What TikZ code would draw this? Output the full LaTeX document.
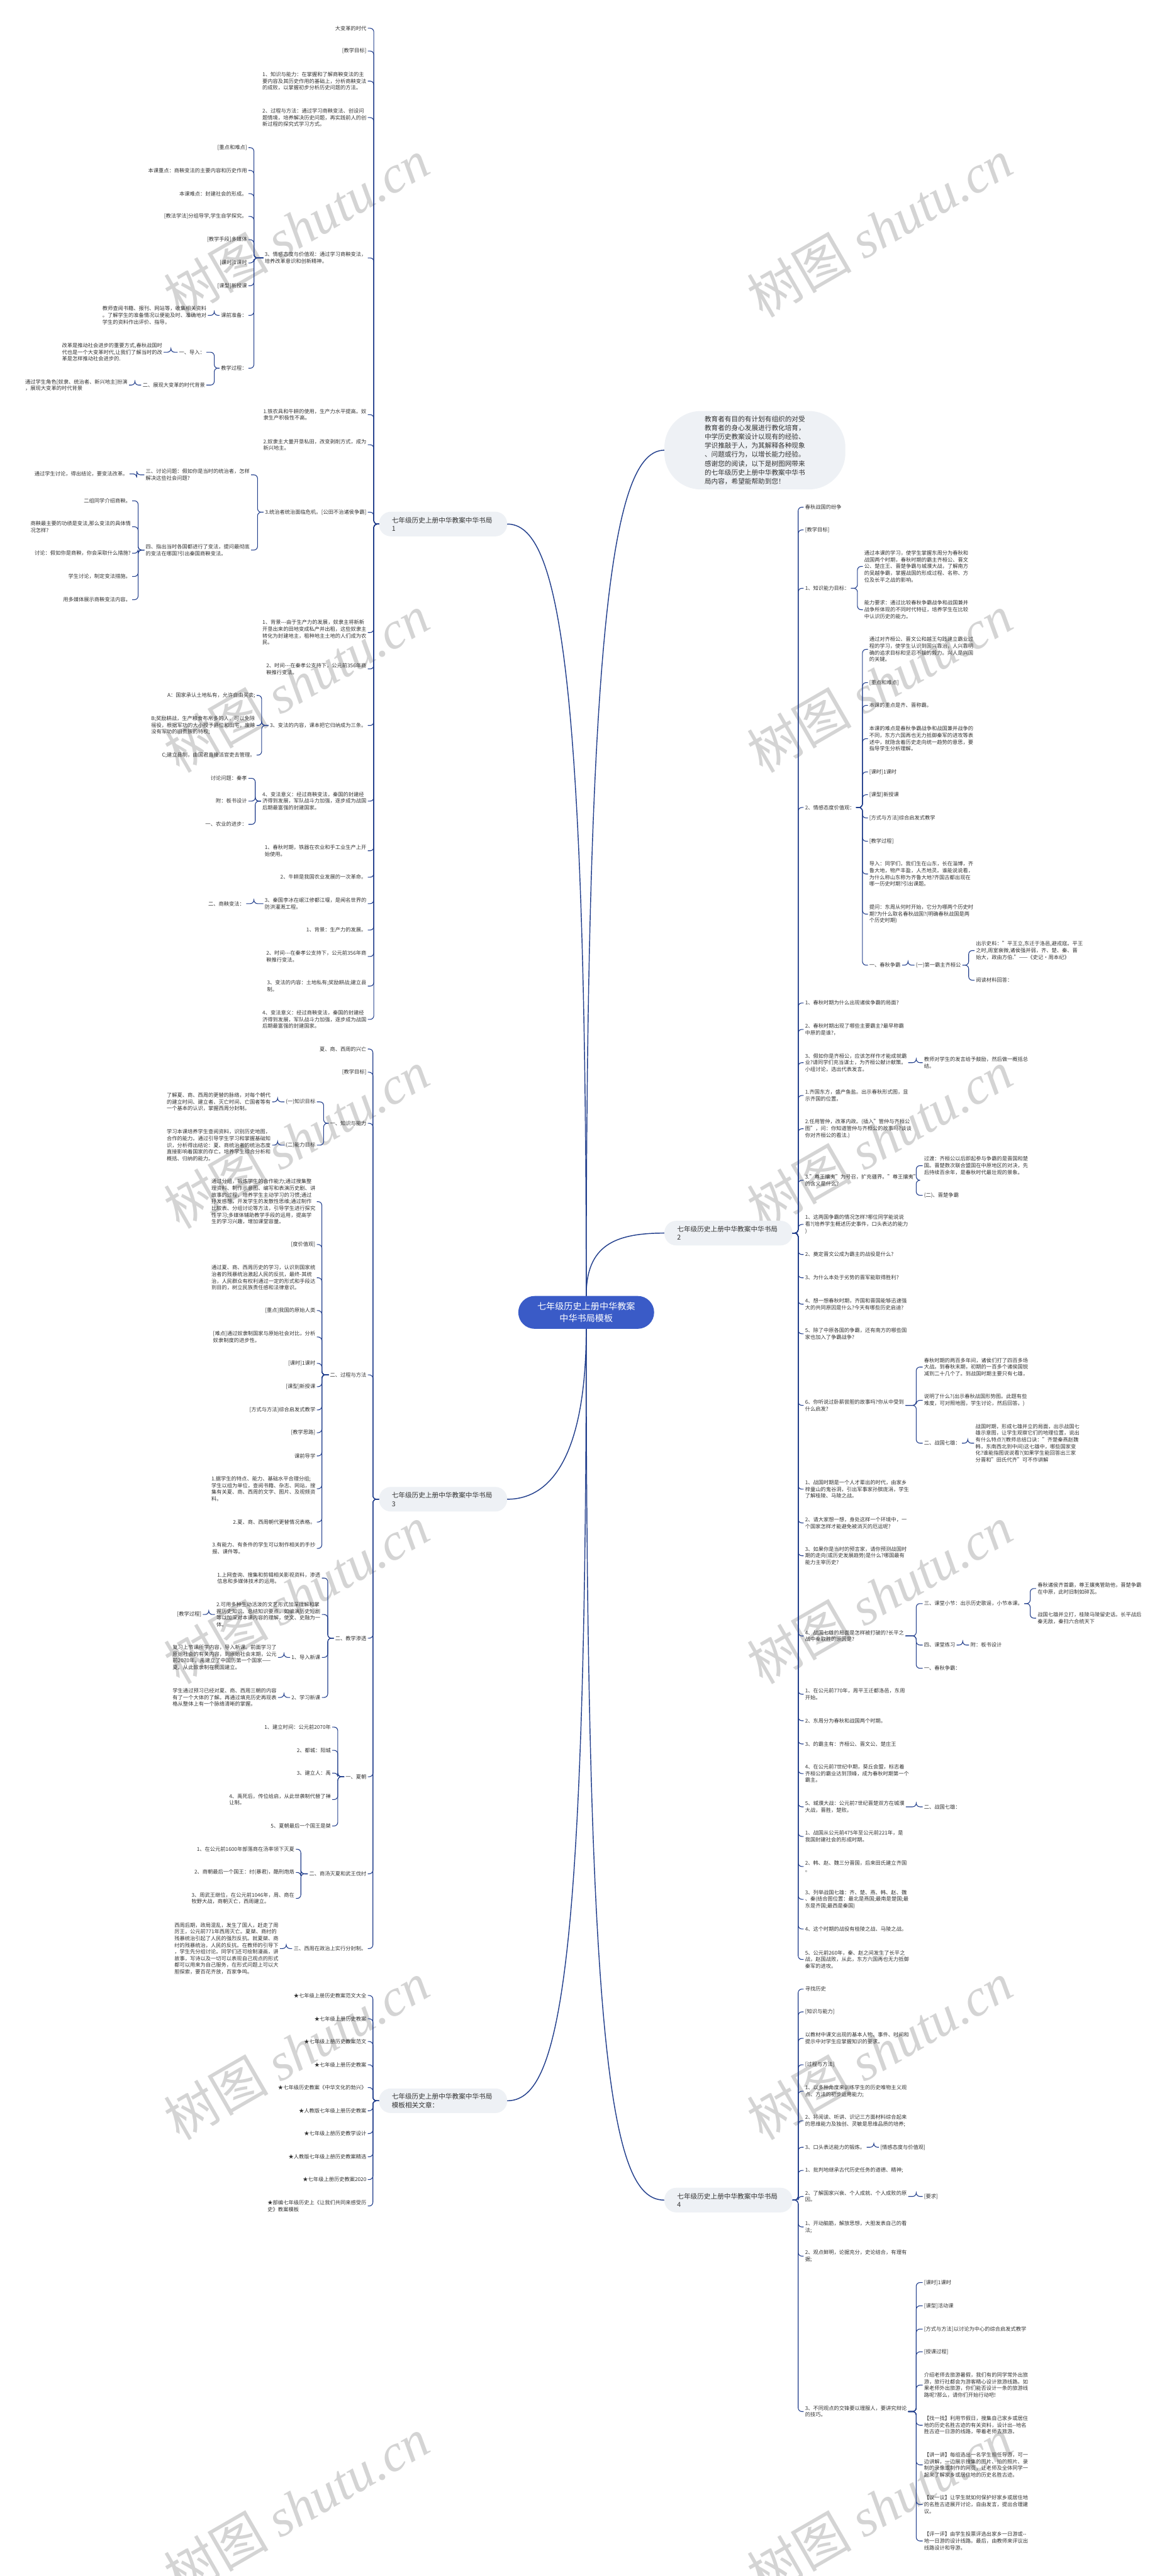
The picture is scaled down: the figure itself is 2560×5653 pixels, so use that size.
\documentclass[tikz,border=0pt]{standalone}
\usepackage{fontspec}
\setmainfont{Noto Sans CJK SC}
\newfontfamily\wmser{Liberation Serif}
\definecolor{navy}{RGB}{33,62,140}
\definecolor{txtc}{RGB}{51,51,51}
\definecolor{pillc}{RGB}{238,241,245}
\definecolor{rootc}{RGB}{58,91,199}
\definecolor{wmc}{RGB}{212,212,212}
\newcommand{\LC}[3]{\draw[conn] (#1.west) -- (#3,0 |- #1.west) |- (#2.east);}
\newcommand{\RC}[3]{\draw[conn] (#1.east) -- (#3,0 |- #1.east) |- (#2.west);}
\tikzset{
 conn/.style={draw=navy, line width=1.5pt, rounded corners=8pt},
 rootline/.style={draw=navy, line width=2pt},
 tx/.style={font=\fontsize{11.4}{14.7}\selectfont, text=txtc, inner xsep=3pt, inner ysep=1pt, align=left},
 lft/.style={tx, anchor=east},
 rgt/.style={tx, anchor=west},
 brnode/.style={fill=pillc, rounded corners=26pt, minimum width=281pt, minimum height=54pt, text width=225pt, align=left, font=\fontsize{14.7}{18.5}\selectfont, text=txtc, inner sep=0pt},
 intro/.style={fill=pillc, rounded corners=80pt, minimum width=397pt, minimum height=172pt, align=left, font=\fontsize{14.7}{19.6}\selectfont, text=txtc, inner sep=0pt},
 rootnode/.style={fill=rootc, text=white, rounded corners=36pt, minimum width=298pt, minimum height=72pt, align=center, font=\fontsize{19.5}{26}\selectfont, inner sep=0pt},
 wmk/.style={rotate=30, text=wmc, font=\fontsize{115}{115}\selectfont, inner sep=0pt}
}
\begin{document}
\begin{tikzpicture}[x=1pt,y=-1pt]
\fill[white] (0,0) rectangle (2560,5653);
\useasboundingbox (0,0) rectangle (2560,5653);
% watermarks
\foreach \yy in {500,1500,2500,3500,4500,5500}{
 \node[wmk] (wl\yy) at (650,\yy) {树图 {\wmser\itshape shutu.cn}};
 \node[wmk] (wr\yy) at (1930,\yy) {树图 {\wmser\itshape shutu.cn}};
}
% root and main branches
\node[rootnode] (C) at (1286,2880) {七年级历史上册中华教案\\中华书局模板};
\node[intro] (I) at (1656,988) {教育者有目的有计划有组织的对受\\教育者的身心发展进行教化培育，\\中学历史教案设计以现有的经验、\\学识推敲于人，为其解释各种现象\\、问题或行为，以增长能力经验。\\感谢您的阅读，以下是树图网带来\\的七年级历史上册中华教案中华书\\局内容，希望能帮助到您！};
\node[brnode] (B1) at (972,1150) {七年级历史上册中华教案中华书局\\1};
\node[brnode] (B2) at (1598,2706) {七年级历史上册中华教案中华书局\\2};
\node[brnode] (B3) at (972,3290) {七年级历史上册中华教案中华书局\\3};
\node[brnode] (B4) at (1598,4828) {七年级历史上册中华教案中华书局\\4};
\node[brnode] (B5) at (972,4610) {七年级历史上册中华教案中华书局\\模板相关文章：};
\draw[rootline] (C.north) .. controls +(0,-1500) and +(-110,0) .. (I.west);
\draw[rootline] (C.north) .. controls +(0,-1400) and +(110,0) .. (B1.east);
\draw[rootline] (C.north) .. controls +(0,-110) and +(-110,0) .. (B2.west);
\draw[rootline] (C.south) .. controls +(0,250) and +(110,0) .. (B3.east);
\draw[rootline] (C.south) .. controls +(0,1450) and +(110,0) .. (B5.east);
\draw[rootline] (C.south) .. controls +(0,1650) and +(-110,0) .. (B4.west);

% ===== Branch 1 =====
\node[lft] (a1) at (807,62) {大变革的时代};
\node[lft] (a2) at (807,112) {[教学目标]};
\node[lft] (a3) at (807,178) {1、知识与能力：在掌握和了解商鞅变法的主\\要内容及其历史作用的基础上，分析商鞅变法\\的成败，以掌握初步分析历史问题的方法。};
\node[lft] (a4) at (807,258) {2、过程与方法：通过学习商鞅变法、创设问\\题情境，培养解决历史问题，再实践前人的创\\新过程的探究式学习方式。};
\node[lft] (a5) at (807,566) {3、情感态度与价值观：通过学习商鞅变法，\\培养改革意识和创新精神。};
\node[lft] (a6) at (807,910) {1.铁农具和牛耕的使用，生产力水平提高。奴\\隶生产积极性不高。};
\node[lft] (a7) at (807,976) {2.奴隶主大量开垦私田，改变剥削方式，成为\\新兴地主。};
\node[lft] (a8) at (807,1124) {3.统治者统治面临危机。[公田不治诸侯争霸]};
\node[lft] (a9) at (807,1388) {1、背景-{}-{}-由于生产力的发展，奴隶主将新新\\开垦出来的田地变成私产并出租，这些奴隶主\\转化为封建地主，租种地主土地的人们成为农\\民。};
\node[lft] (a10) at (807,1468) {2、时间-{}-{}-在秦孝公支持下，公元前356年商\\鞅推行变法。};
\node[lft] (a11) at (807,1592) {3、变法的内容，课本把它归纳成为三条。};
\node[lft] (a12) at (807,1758) {4、变法意义：经过商鞅变法，秦国的封建经\\济得到发展，军队战斗力加强，逐步成为战国\\后期最富强的封建国家。};
\node[lft] (a13) at (807,1867) {1、春秋时期，铁器在农业和手工业生产上开\\始使用。};
\node[lft] (a14) at (807,1925) {2、牛耕是我国农业发展的一次革命。};
\node[lft] (a15) at (807,1983) {3、秦国李冰在岷江修都江堰，是闻名世界的\\防洪灌溉工程。};
\node[lft] (a16) at (807,2041) {1、背景：生产力的发展。};
\node[lft] (a17) at (807,2099) {2、时间-{}-{}-在秦孝公支持下，公元前356年商\\鞅推行变法。};
\node[lft] (a18) at (807,2164) {3、变法的内容：土地私有;奖励耕战;建立县\\制。};
\node[lft] (a19) at (807,2237) {4、变法意义：经过商鞅变法，秦国的封建经\\济得到发展，军队战斗力加强，逐步成为战国\\后期最富强的封建国家。};
\foreach \n in {a1,a2,a3,a4,a5,a6,a7,a8,a9,a10,a11,a12,a13,a14,a15,a16,a17,a18,a19}{\LC{B1}{\n}{820}}

\node[lft] (a5c1) at (545,324) {[重点和难点]};
\node[lft] (a5c2) at (545,374) {本课重点：商鞅变法的主要内容和历史作用};
\node[lft] (a5c3) at (545,425) {本课难点：封建社会的形成。};
\node[lft] (a5c4) at (545,475) {[教法学法]分组导学,学生自学探究。};
\node[lft] (a5c5) at (545,526) {[教学手段]多媒体};
\node[lft] (a5c6) at (545,577) {[课时]1课时};
\node[lft] (a5c7) at (545,627) {[课型]新授课};
\node[lft] (a5c8) at (545,692) {课前准备：};
\node[lft] (a5c9) at (545,808) {教学过程：};
\foreach \n in {a5c1,a5c2,a5c3,a5c4,a5c5,a5c6,a5c7,a5c8,a5c9}{\LC{a5}{\n}{557}}
\node[lft] (a5c8a) at (456,692) {教师查阅书籍、报刊、网站等，收集相关资料\\。了解学生的准备情况以便能及时、准确地对\\学生的资料作出评价、指导。};
\LC{a5c8}{a5c8a}{470}
\node[lft] (a5c9a) at (453,773) {一、导入：};
\node[lft] (a5c9b) at (453,845) {二、展现大变革的时代背景};
\LC{a5c9}{a5c9a}{470}
\LC{a5c9}{a5c9b}{470}
\node[lft] (a5c9a1) at (359,773) {改革是推动社会进步的重要方式,春秋战国时\\代也是一个大变革时代,让我们了解当时的改\\革是怎样推动社会进步的.};
\LC{a5c9a}{a5c9a1}{375}
\node[lft] (a5c9b1) at (283,845) {通过学生角色[奴隶、统治者、新兴地主]扮演\\，展现大变革的时代背景};
\LC{a5c9b}{a5c9b1}{296}

\node[lft] (a8c1) at (551,1042) {三、讨论问题：假如你是当时的统治者，怎样\\解决这些社会问题?};
\node[lft] (a8c2) at (551,1207) {四、指出当时各国都进行了变法，提问最彻底\\的变法在哪国?引出秦国商鞅变法。};
\LC{a8}{a8c1}{565}
\LC{a8}{a8c2}{565}
\node[lft] (a8c1a) at (284,1040) {通过学生讨论，得出结论，要变法改革。};
\LC{a8c1}{a8c1a}{300}
\node[lft] (a8c2a) at (290,1099) {二组同学介绍商鞅。};
\node[lft] (a8c2b) at (290,1156) {商鞅最主要的功绩是变法,那么变法的具体情\\况怎样?};
\node[lft] (a8c2c) at (290,1214) {讨论：假如你是商鞅，你会采取什么措施?};
\node[lft] (a8c2d) at (290,1265) {学生讨论，制定变法措施。};
\node[lft] (a8c2e) at (290,1316) {用多媒体展示商鞅变法内容。};
\foreach \n in {a8c2a,a8c2b,a8c2c,a8c2d,a8c2e}{\LC{a8c2}{\n}{303}}

\node[lft] (a11c1) at (563,1526) {A：国家承认土地私有，允许自由买卖;};
\node[lft] (a11c2) at (563,1592) {B;奖励耕战，生产粮食布帛多的人，可以免除\\徭役，根据军功的大小授予爵位和田宅，废除\\没有军功的旧贵族的特权;};
\node[lft] (a11c3) at (563,1657) {C;建立县制，由国君直接派官吏去管理。};
\foreach \n in {a11c1,a11c2,a11c3}{\LC{a11}{\n}{574}}
\node[lft] (a12c1) at (545,1708) {讨论问题：秦孝};
\node[lft] (a12c2) at (545,1758) {附：板书设计};
\node[lft] (a12c3) at (545,1809) {一、农业的进步：};
\foreach \n in {a12c1,a12c2,a12c3}{\LC{a12}{\n}{560}}
\node[lft] (a15a) at (540,1983) {二、商鞅变法：};
\LC{a15}{a15a}{557}

% ===== Branch 3 =====
\node[lft] (b1) at (807,2302) {夏、商、西周的兴亡};
\node[lft] (b2) at (807,2353) {[教学目标]};
\node[lft] (b3) at (807,2465) {一、知识与能力};
\node[lft] (b4) at (807,3017) {二、过程与方法};
\node[lft] (b5) at (807,3595) {二、教学渗透};
\node[lft] (b6) at (807,3899) {一、夏朝};
\node[lft] (b7) at (807,4112) {二、商汤灭夏和武王伐纣};
\node[lft] (b8) at (807,4276) {三、西周在政治上实行分封制。};
\foreach \n in {b1,b2,b3,b4,b5,b6,b7,b8}{\LC{B3}{\n}{818}}

\node[lft] (b3c1) at (695,2418) {(一)知识目标};
\node[lft] (b3c2) at (695,2513) {(二)能力目标};
\LC{b3}{b3c1}{710}
\LC{b3}{b3c2}{710}
\node[lft] (b3c1a) at (597,2418) {了解夏、商、西周的更替的脉络，对每个朝代\\的建立时间、建立者、灭亡时间、亡国者等有\\一个基本的认识，掌握西周分封制。};
\LC{b3c1}{b3c1a}{609}
\node[lft] (b3c2a) at (597,2513) {学习本课培养学生查阅资料，识别历史地图，\\合作的能力。通过引导学生学习和掌握基础知\\识，分析得出结论：夏、商统治者的统治态度\\直接影响着国家的存亡。培养学生综合分析和\\概括、归纳的能力。};
\LC{b3c2}{b3c2a}{609}

\node[lft] (b4c1) at (695,2637) {通过分组，锻炼学生的合作能力;通过搜集整\\理资料、制作示意图、编写和表演历史剧、讲\\故事的过程，培养学生主动学习的习惯;通过\\抒发感想，开发学生的发散性思维;通过制作\\比较表、分组讨论等方法，引导学生进行探究\\性学习;多媒体辅助教学手段的运用，提高学\\生的学习兴趣，增加课堂容量。};
\node[lft] (b4c2) at (695,2731) {[度价值观]};
\node[lft] (b4c3) at (695,2804) {通过夏、商、西周历史的学习，认识到国家统\\治者的残暴统治激起人民的反抗，最终-其统\\治，人民群众有权利通过一定的形式和手段达\\到目的，树立民族责任感和法律意识。};
\node[lft] (b4c4) at (695,2876) {[重点]我国的原始人类};
\node[lft] (b4c5) at (695,2934) {[难点]通过奴隶制国家与原始社会对比，分析\\奴隶制度的进步性。};
\node[lft] (b4c6) at (695,2992) {[课时]1课时};
\node[lft] (b4c7) at (695,3043) {[课型]新授课};
\node[lft] (b4c8) at (695,3094) {[方式与方法]综合启发式教学};
\node[lft] (b4c9) at (695,3144) {[教学思路]};
\node[lft] (b4c10) at (695,3195) {课前导学};
\node[lft] (b4c11) at (695,3267) {1.据学生的特点、能力、基础水平合理分组;\\学生以组为单位，查阅书籍、杂志、网站，搜\\集有关夏、商、西周的文字、图片、及视频资\\料。};
\node[lft] (b4c12) at (695,3340) {2.夏、商、西周朝代更替情况表格。};
\node[lft] (b4c13) at (695,3398) {3.有能力、有条件的学生可以制作相关的手抄\\报、课件等。};
\foreach \n in {b4c1,b4c2,b4c3,b4c4,b4c5,b4c6,b4c7,b4c8,b4c9,b4c10,b4c11,b4c12,b4c13}{\LC{b4}{\n}{706}}

\node[lft] (b5c1) at (706,3463) {1.上网查询、搜集和剪辑相关影视资料，渗透\\信息和多媒体技术的运用。};
\node[lft] (b5c2) at (706,3543) {2.可用多种生动活泼的文艺形式加深理解和掌\\握历史知识、总结知识要点，如编演历史短剧\\等以加深对本课内容的理解，使文、史融为一\\体。};
\node[lft] (b5c3) at (706,3637) {1、导入新课};
\node[lft] (b5c4) at (706,3725) {2、学习新课};
\foreach \n in {b5c1,b5c2,b5c3,b5c4}{\LC{b5}{\n}{719}}
\node[lft] (b5c2a) at (445,3543) {[教学过程]};
\LC{b5c2}{b5c2a}{458}
\node[lft] (b5c3a) at (610,3637) {复习上节课所学内容，导入新课。前面学习了\\原始社会的有关内容，到原始社会末期，公元\\前2070年，禹建立了中国历第一个国家——\\夏。从此奴隶制在我国建立。};
\LC{b5c3}{b5c3a}{623}
\node[lft] (b5c4a) at (610,3725) {学生通过预习已经对夏、商、西周三朝的内容\\有了一个大体的了解。再通过填充历史再现表\\格从整体上有一个脉络清晰的掌握。};
\LC{b5c4}{b5c4a}{623}

\node[lft] (b6c1) at (729,3790) {1、建立时间：公元前2070年};
\node[lft] (b6c2) at (729,3841) {2、都城：阳城};
\node[lft] (b6c3) at (729,3891) {3、建立人：禹};
\node[lft] (b6c4) at (729,3949) {4、禹死后，传位给启，从此世袭制代替了禅\\让制。};
\node[lft] (b6c5) at (729,4007) {5、夏朝最后一个国王是桀};
\foreach \n in {b6c1,b6c2,b6c3,b6c4,b6c5}{\LC{b6}{\n}{741}}
\node[lft] (b7c1) at (649,4058) {1、在公元前1600年部落商在汤率领下灭夏};
\node[lft] (b7c2) at (649,4109) {2、商朝最后一个国王：纣(暴君)，酷刑炮烙};
\node[lft] (b7c3) at (649,4166) {3、周武王继位，在公元前1046年，周、商在\\牧野大战，商朝灭亡，西周建立。};
\foreach \n in {b7c1,b7c2,b7c3}{\LC{b7}{\n}{660}}
\node[lft] (b8a) at (614,4276) {西周后期，政局混乱，发生了国人，赶走了周\\厉王，公元前771年西周灭亡。夏桀、商纣的\\残暴统治引起了人民的强烈反抗。就夏桀、商\\纣的残暴统治，人民的反抗。在教师的引导下\\，学生先分组讨论。同学们还可绘制漫画，讲\\故事，写诗以及一切可以表现自己观点的形式\\都可以用来为自己服务，在形式问题上可以大\\胆探索，要百花齐放，百家争鸣。};
\LC{b8}{b8a}{628}

% ===== Branch 5 (related) =====
\node[lft] (r1) at (807,4379) {★七年级上册历史教案范文大全};
\node[lft] (r2) at (807,4430) {★七年级上册历史教案};
\node[lft] (r3) at (807,4480) {★七年级上册历史教案范文};
\node[lft] (r4) at (807,4531) {★七年级上册历史教案};
\node[lft] (r5) at (807,4581) {★七年级历史教案《中华文化的勃兴》};
\node[lft] (r6) at (807,4632) {★人教版七年级上册历史教案};
\node[lft] (r7) at (807,4682) {★七年级上册历史教学设计};
\node[lft] (r8) at (807,4733) {★人教版七年级上册历史教案精选};
\node[lft] (r9) at (807,4783) {★七年级上册历史教案2020};
\node[lft] (r10) at (807,4841) {★部编七年级历史上《让我们共同来感受历\\史》教案模板};
\foreach \n in {r1,r2,r3,r4,r5,r6,r7,r8,r9,r10}{\LC{B5}{\n}{818}}

% ===== Branch 2 =====
\node[rgt] (c1) at (1763,1113) {春秋战国的纷争};
\node[rgt] (c2) at (1763,1163) {[教学目标]};
\node[rgt] (c3) at (1763,1291) {1、知识能力目标：};
\node[rgt] (c4) at (1763,1772) {2、情感态度价值观：};
\node[rgt] (c5) at (1763,2201) {1、春秋时期为什么出现诸侯争霸的局面?};
\node[rgt] (c6) at (1763,2259) {2、春秋时期出现了哪些主要霸主?最早称霸\\中原的是谁?，};
\node[rgt] (c7) at (1763,2332) {3、假如你是齐桓公，应该怎样作才能成就霸\\业?请同学们充当谋士，为齐桓公献计献策。\\小组讨论，选出代表发言。};
\node[rgt] (c8) at (1763,2404) {1.齐国东方，盛产鱼盐。出示春秋形式图，显\\示齐国的位置。};
\node[rgt] (c9) at (1763,2477) {2.任用管仲，改革内政。(插入"管仲与齐桓公\\图"，问：你知道管仲与齐桓公的故事吗?谈谈\\你对齐桓公的看法.)};
\node[rgt] (c10) at (1763,2590) {3."尊王攘夷"为号召，扩充疆界。"尊王攘夷"\\的含义是什么?};
\node[rgt] (c11) at (1763,2687) {1、这两国争霸的情况怎样?哪位同学能说说\\看?(培养学生概述历史事件，口头表达的能力\\)};
\node[rgt] (c12) at (1763,2753) {2、奠定晋文公成为霸主的战役是什么?};
\node[rgt] (c13) at (1763,2804) {3、为什么本处于劣势的晋军能取得胜利?};
\node[rgt] (c14) at (1763,2862) {4、想一想春秋时期，齐国和晋国能够迅速强\\大的共同原因是什么?今天有哪些历史启迪?};
\node[rgt] (c15) at (1763,2927) {5、除了中原各国的争霸，还有南方的哪些国\\家也加入了争霸战争?};
\node[rgt] (c16) at (1763,3084) {6、你听说过卧薪尝胆的故事吗?你从中受到\\什么启发?};
\node[rgt] (c17) at (1763,3268) {1、战国时期是一个人才辈出的时代，由家乡\\梓童山的鬼谷洞，引出军事家孙膑庞涓，学生\\了解桂陵、马陵之战。};
\node[rgt] (c18) at (1763,3342) {2、请大家想一想，身处这样一个环境中，一\\个国家怎样才能避免被消灭的厄运呢?};
\node[rgt] (c19) at (1763,3414) {3、如果你是当时的预言家，请你预测战国时\\期的走向(或历史发展趋势)是什么?哪国最有\\能力主宰历史?};
\node[rgt] (c20) at (1763,3590) {4、战国七雄的局面是怎样被打破的?长平之\\战中秦取胜的原因是?};
\node[rgt] (c21) at (1763,3718) {1、在公元前770年，周平王迁都洛邑，东周\\开始。};
\node[rgt] (c22) at (1763,3776) {2、东周分为春秋和战国两个时期。};
\node[rgt] (c23) at (1763,3827) {3、的霸主有：齐桓公、晋文公、楚庄王};
\node[rgt] (c24) at (1763,3892) {4、在公元前7世纪中期，葵丘会盟，标志着\\齐桓公的霸业达到顶峰，成为春秋时期第一个\\霸主。};
\node[rgt] (c25) at (1763,3965) {5、城濮大战：公元前7世纪晋楚双方在城濮\\大战，晋胜，楚败。};
\node[rgt] (c26) at (1763,4030) {1、战国从公元前475年至公元前221年，是\\我国封建社会的形成时期。};
\node[rgt] (c27) at (1763,4096) {2、韩、赵、魏三分晋国，后来田氏建立齐国\\。};
\node[rgt] (c28) at (1763,4168) {3、列举战国七雄：齐、楚、燕、韩、赵、魏\\、秦(结合图位置：最北是燕国;最南是楚国;最\\东是齐国;最西是秦国)};
\node[rgt] (c29) at (1763,4233) {4、这个时期的战役有桂陵之战、马陵之战。};
\node[rgt] (c30) at (1763,4300) {5、公元前260年，秦、赵之间发生了长平之\\战，赵国战败，从此，东方六国再也无力抵御\\秦军的进攻。};
\foreach \n in {c1,c2,c3,c4,c5,c6,c7,c8,c9,c10,c11,c12,c13,c14,c15,c16,c17,c18,c19,c20,c21,c22,c23,c24,c25,c26,c27,c28,c29,c30}{\RC{B2}{\n}{1751}}

\node[rgt] (c3a) at (1893,1243) {通过本课的学习，使学生掌握东周分为春秋和\\战国两个时期，春秋时期的霸主齐桓公、晋文\\公、楚庄王、晋楚争霸与城濮大战，了解南方\\的吴越争霸，掌握战国的形成过程、名称、方\\位及长平之战的影响。};
\node[rgt] (c3b) at (1893,1338) {能力要求：通过比较春秋争霸战争和战国兼并\\战争所体现的不同时代特征，培养学生在比较\\中认识历史的能力。};
\RC{c3}{c3a}{1881}
\RC{c3}{c3b}{1881}

\node[rgt] (c4a) at (1904,1425) {通过对齐桓公、晋文公和越王勾践建立霸业过\\程的学习，使学生认识到国兴靠治，人兴靠明\\确的追求目标和坚忍不拔的毅力。兴人是兴国\\的关键。};
\node[rgt] (c4b) at (1904,1498) {[重点和难点]};
\node[rgt] (c4c) at (1904,1548) {本课的重点是齐、晋称霸。};
\node[rgt] (c4d) at (1904,1621) {本课的难点是春秋争霸战争和战国兼并战争的\\不同，东方六国再也无力抵御秦军的进攻等表\\述中，就隐含着历史走向统一趋势的意思，要\\指导学生分析理解。};
\node[rgt] (c4e) at (1904,1694) {[课时]1课时};
\node[rgt] (c4f) at (1904,1744) {[课型]新授课};
\node[rgt] (c4g) at (1904,1795) {[方式与方法]综合启发式教学};
\node[rgt] (c4h) at (1904,1846) {[教学过程]};
\node[rgt] (c4i) at (1904,1918) {导入：同学们，我们生在山东，长在淄博，齐\\鲁大地，物产丰盈，人杰地灵。谁能说说看，\\为什么称山东称为齐鲁大地?齐国古都出现在\\哪一历史时期?引出课题。};
\node[rgt] (c4j) at (1904,2006) {提问：东周从何时开始，它分为哪两个历史时\\期?为什么取名春秋战国?(明确春秋战国是两\\个历史时期)};
\node[rgt] (c4k) at (1904,2118) {一、春秋争霸};
\foreach \n in {c4a,c4b,c4c,c4d,c4e,c4f,c4g,c4h,c4i,c4j,c4k}{\RC{c4}{\n}{1892}}
\node[rgt] (c4k1) at (2006,2118) {(一)第一霸主齐桓公};
\RC{c4k}{c4k1}{1992}
\node[rgt] (c4k1a) at (2138,2086) {出示史料："平王立,东迁于洛邑,避戎寇。平王\\之时,周室衰微,诸侯强并弱，齐、楚、秦、晋\\始大，政由方伯."——《史记•周本纪》};
\node[rgt] (c4k1b) at (2138,2151) {阅读材料回答：};
\RC{c4k1}{c4k1a}{2125}
\RC{c4k1}{c4k1b}{2125}

\node[rgt] (c7a) at (2024,2332) {教师对学生的发言给予鼓励，然后做一概括总\\结。};
\RC{c7}{c7a}{2010}
\node[rgt] (c10a) at (2024,2558) {过渡：齐桓公以后即起参与争霸的是晋国和楚\\国。晋楚数次联合盟国在中原地区的对决，先\\后持续百余年，是春秋时代最壮观的景象。};
\node[rgt] (c10b) at (2024,2623) {(二)、晋楚争霸};
\RC{c10}{c10a}{2010}
\RC{c10}{c10b}{2010}
\node[rgt] (c16a) at (2024,3000) {春秋时期的两百多年间，诸侯们打了四百多场\\大战。到春秋末期，初期的一百多个诸侯国锐\\减到二十几个了。到战国时期主要只有七雄，};
\node[rgt] (c16b) at (2024,3073) {说明了什么?(出示春秋战国形势图。此题有些\\难度，可对照地图，学生讨论，然后回答。)};
\node[rgt] (c16c) at (2024,3167) {二、战国七雄：};
\foreach \n in {c16a,c16b,c16c}{\RC{c16}{\n}{2010}}
\node[rgt] (c16c1) at (2137,3167) {战国时期，形成七雄并立的局面，出示战国七\\雄示意图，让学生观察它们的地理位置，说出\\有什么特点?(教师总结口诀："齐楚秦燕赵魏\\韩，东南西北到中间)这七雄中，哪些国家变\\化?谁能指图说说看?(如果学生能回答出三家\\分晋和"田氏代齐"可不作讲解};
\RC{c16c}{c16c1}{2123}
\node[rgt] (c20a) at (2024,3519) {三、课堂小节：出示历史歌谣，小节本课。};
\node[rgt] (c20b) at (2024,3610) {四、课堂练习};
\node[rgt] (c20c) at (2024,3661) {一、春秋争霸：};
\foreach \n in {c20a,c20b,c20c}{\RC{c20}{\n}{2010}}
\node[rgt] (c20a1) at (2273,3486) {春秋诸侯齐首霸，尊王攘夷管助他，晋楚争霸\\在中原，此时旧制如碎瓦。};
\node[rgt] (c20a2) at (2273,3551) {战国七雄并立打，桂陵马陵留史话。长平战后\\秦无敌，秦扫六合统天下};
\RC{c20a}{c20a1}{2260}
\RC{c20a}{c20a2}{2260}
\node[rgt] (c20b1) at (2126,3610) {附：板书设计};
\RC{c20b}{c20b1}{2112}
\node[rgt] (c25a) at (2024,3965) {二、战国七雄：};
\RC{c25}{c25a}{2010}

% ===== Branch 4 =====
\node[rgt] (d1) at (1763,4365) {寻找历史};
\node[rgt] (d2) at (1763,4415) {[知识与能力]};
\node[rgt] (d3) at (1763,4473) {以教材中课文出现的基本人物、事件、时间和\\提示中对学生应掌握知识的要求。};
\node[rgt] (d4) at (1763,4531) {[过程与方法]};
\node[rgt] (d5) at (1763,4589) {1、以多种角度来训练学生的历史唯物主义观\\点、方法的初步运用能力;};
\node[rgt] (d6) at (1763,4654) {2、将阅读、听讲、识记三方面材料综合起来\\的思维能力及独创、灵敏是思维品质的培养;};
\node[rgt] (d7) at (1763,4712) {3、口头表达能力的锻炼。};
\node[rgt] (d8) at (1763,4763) {1、批判地继承古代历史任务的道德、精神;};
\node[rgt] (d9) at (1763,4820) {2、了解国家兴衰、个人成就、个人成败的原\\因。};
\node[rgt] (d10) at (1763,4887) {1、开动脑筋，解放思想，大胆发表自己的看\\法;};
\node[rgt] (d11) at (1763,4951) {2、观点鲜明，论据充分，史论结合，有理有\\据;};
\node[rgt] (d12) at (1763,5292) {3、不同观点的交锋要以理服人，要讲究辩论\\的技巧。};
\foreach \n in {d1,d2,d3,d4,d5,d6,d7,d8,d9,d10,d11,d12}{\RC{B4}{\n}{1751}}
\node[rgt] (d7a) at (1928,4712) {[情感态度与价值观]};
\RC{d7}{d7a}{1917}
\node[rgt] (d9a) at (2024,4820) {[要求]};
\RC{d9}{d9a}{2010}
\node[rgt] (d12a) at (2024,5009) {[课时]1课时};
\node[rgt] (d12b) at (2024,5060) {[课型]活动课};
\node[rgt] (d12c) at (2024,5111) {[方式与方法]以讨论为中心的综合启发式教学};
\node[rgt] (d12d) at (2024,5161) {[授课过程]};
\node[rgt] (d12e) at (2024,5234) {介绍老师去旅游暑假，我们有的同学常外出旅\\游，旅行社都会为游客精心设计旅游线路。如\\果老师外出旅游，你们能否设计一条的旅游线\\路呢?那么，请你们开始行动吧!};
\node[rgt] (d12f) at (2024,5322) {【找一找】利用节假日，搜集自己家乡或居住\\地的历史名胜古迹的有关资料，设计出-{}-地名\\胜古迹一日游的线路，带着老师去旅游。};
\node[rgt] (d12g) at (2024,5409) {【讲一讲】每组选出一名学生担任导游，可一\\边讲解，一边展示搜集的图片、拍的照片、录\\制的录像或制作的网页，让老师及全体同学一\\起来了解家乡或居住地的历史名胜古迹。};
\node[rgt] (d12h) at (2024,5496) {【议一议】让学生就如何保护好家乡或居住地\\的名胜古迹展开讨论，自由发言，提出合理建\\议。};
\node[rgt] (d12i) at (2024,5576) {【评一评】由学生投票评选出家乡一日游或-{}-\\地一日游的设计线路。最后，由教师来评议出\\线路设计和导游。};
\foreach \n in {d12a,d12b,d12c,d12d,d12e,d12f,d12g,d12h,d12i}{\RC{d12}{\n}{2010}}
\end{tikzpicture}
\end{document}
